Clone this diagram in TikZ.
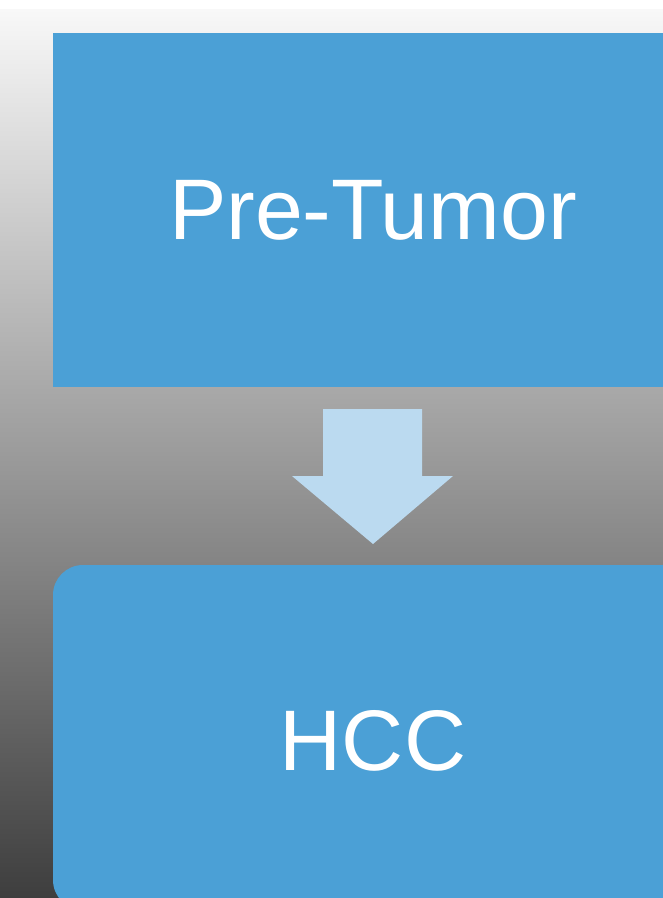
\documentclass[tikz,border=0pt]{standalone}
\usepackage{fontspec}
\setmainfont{Liberation Sans}
\definecolor{boxblue}{HTML}{4BA0D6}
\definecolor{arrowblue}{HTML}{BBDAF0}
\definecolor{bgtop}{HTML}{F8F8F8}
\definecolor{bgbot}{HTML}{3E3E3E}
\begin{document}
\begin{tikzpicture}[x=1pt,y=-1pt,
  blockbox/.style={fill=boxblue,draw=none},
  blocktext/.style={text=white,font=\fontsize{86}{90}\selectfont,inner sep=0pt}]
\useasboundingbox (0,0) rectangle (663,898);
\fill[white] (0,0) rectangle (663,898);
\shade[top color=bgtop,bottom color=bgbot] (0,9) rectangle (663,898);
% top box
\fill[blockbox] (53,33) rectangle (680,387);
\node[blocktext] (pre) at (373,210) {Pre-Tumor};
% bottom box
\fill[blockbox,rounded corners=30pt] (53,910) -- (53,565) -- (700,565) -- (700,910) -- cycle;
\node[blocktext] (hcc) at (373,741) {HCC};
% block arrow
\fill[arrowblue] (323,409) -- (422,409) -- (422,476) -- (453,476) -- (373,544) -- (292,476) -- (323,476) -- cycle;
\end{tikzpicture}
\end{document}
